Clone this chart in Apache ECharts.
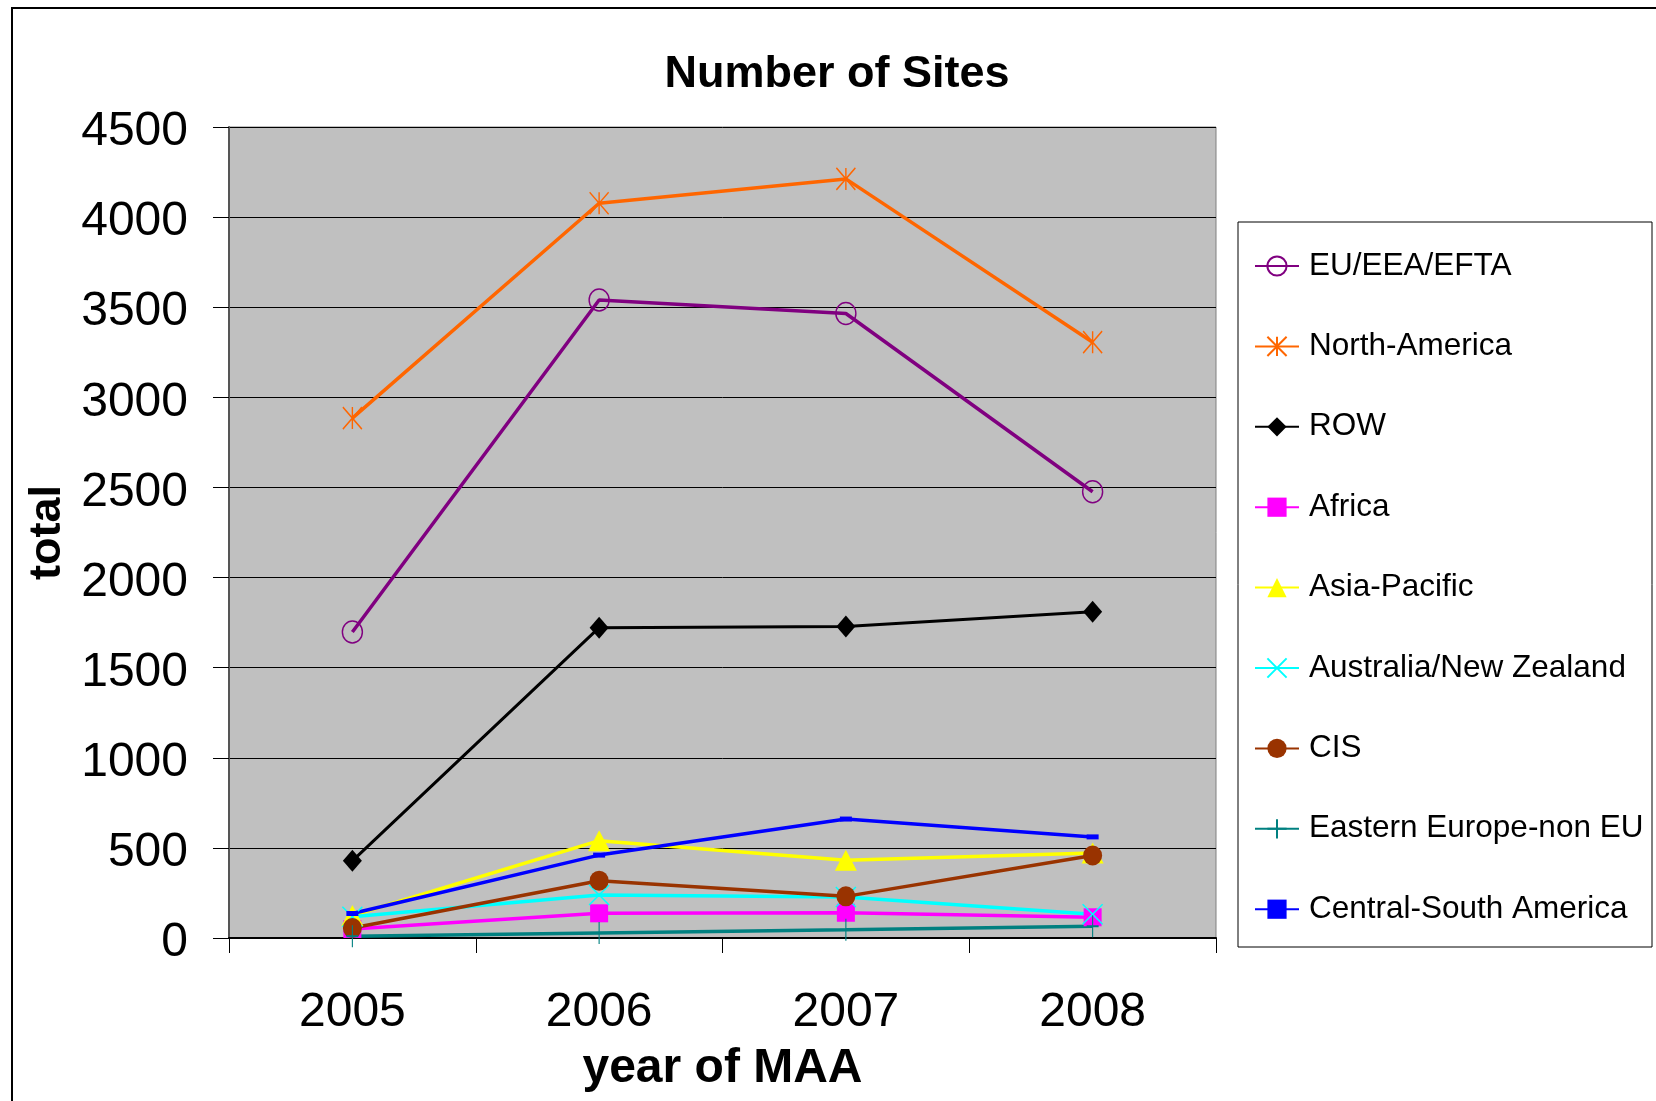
<!DOCTYPE html>
<html>
<head>
<meta charset="utf-8">
<style>html,body{margin:0;padding:0;background:#fff;}#c{width:1656px;height:1101px;}</style>
<script src="https://cdn.jsdelivr.net/npm/echarts@6/dist/echarts.min.js"></script>
</head>
<body>
<div id="c"></div>
<script>
const years = ['2005', '2006', '2007', '2008'];
const euEeaEfta = [1698, 3540, 3465, 2476];
const northAmerica = [2885, 4077, 4212, 3306];
const row = [428, 1722, 1728, 1810];
const africa = [50, 137, 140, 115];
const asiaPacific = [125, 540, 432, 472];
const australiaNZ = [118, 239, 228, 132];
const cis = [55, 318, 231, 458];
const easternEurope = [10, 28, 46, 65];
const centralSouthAmerica = [136, 460, 660, 561];
const yTicks = [0, 500, 1000, 1500, 2000, 2500, 3000, 3500, 4000, 4500];

const FONT = '"Liberation Sans", Arial, sans-serif';

function mk(name, data, color, symbol, size, opts) {
  opts = opts || {};
  return {
    name: name, type: 'line', data: data,
    symbol: symbol, symbolSize: size,
    showSymbol: true,
    lineStyle: { color: color, width: opts.lw || 3.5 },
    itemStyle: {
      color: opts.fill !== undefined ? opts.fill : color,
      borderColor: color,
      borderWidth: opts.bw !== undefined ? opts.bw : 0
    },
    emphasis: { disabled: true },
    animation: false
  };
}

const chart = echarts.init(document.getElementById('c'), null, { renderer: 'canvas' });
chart.setOption({
  animation: false,
  backgroundColor: '#fff',
  textStyle: { fontFamily: FONT },
  title: {
    text: 'Number of Sites',
    left: 832, top: 47, textAlign: 'center',
    textStyle: { fontFamily: FONT, fontSize: 45, fontWeight: 'bold', color: '#000' }
  },
  graphic: [
    { type: 'rect', shape: { x: 12, y: 8, width: 1700, height: 1200 }, style: { fill: 'none', stroke: '#000', lineWidth: 2 }, z: -1 },
    { type: 'rect', shape: { x: 1238, y: 222, width: 414, height: 725 }, style: { fill: '#fff', stroke: '#000', lineWidth: 1 }, z: -1 }
  ],
  legend: {
    orient: 'vertical',
    left: 1254, top: 250,
    itemWidth: 44, itemHeight: 24, itemGap: 48.4,
    padding: 0,
    textStyle: { fontFamily: FONT, fontSize: 31.5, color: '#000', padding: [0, 0, 0, 5] },
    data: ['EU/EEA/EFTA', 'North-America', 'ROW', 'Africa', 'Asia-Pacific', 'Australia/New Zealand', 'CIS', 'Eastern Europe-non EU', 'Central-South America']
  },
  grid: {
    left: 229, top: 127, width: 987, height: 811,
    show: true, backgroundColor: '#C0C0C0', borderColor: '#808080', borderWidth: 1
  },
  xAxis: {
    type: 'category', data: years, boundaryGap: true,
    name: 'year of MAA', nameLocation: 'middle', nameGap: 107,
    nameTextStyle: { fontFamily: FONT, fontSize: 48, fontWeight: 'bold', color: '#000' },
    axisLine: { show: true, lineStyle: { color: '#000', width: 2 } },
    axisTick: { show: true, length: 15, interval: 0, alignWithLabel: false, lineStyle: { color: '#000', width: 1 } },
    axisLabel: { fontFamily: FONT, fontSize: 48, color: '#000', margin: 51, interval: 0 },
    splitLine: { show: false }
  },
  yAxis: {
    type: 'value', min: 0, max: 4500, interval: 500,
    name: 'total', nameLocation: 'middle', nameGap: 157, nameRotate: 90,
    nameTextStyle: { fontFamily: FONT, fontSize: 45, fontWeight: 'bold', color: '#000' },
    axisLine: { show: true, lineStyle: { color: '#555', width: 2 } },
    axisTick: { show: true, length: 16, lineStyle: { color: '#000', width: 1 } },
    axisLabel: { fontFamily: FONT, fontSize: 48, color: '#000', margin: 41,
      verticalAlign: 'top', lineHeight: 10,
      formatter: function (v) { return yTicks.indexOf(v) >= 0 ? String(v) : ''; } },
    splitLine: { show: true, lineStyle: { color: '#000', width: 1 } }
  },
  series: [
    mk('EU/EEA/EFTA', euEeaEfta, '#800080', 'circle', [20, 22], { fill: 'rgba(0,0,0,0)', bw: 1.5, lw: 3.5 }),
    mk('North-America', northAmerica, '#FF6600', 'path://M0,0L12,20M12,0L0,20M6,0L6,20', [19, 22], { bw: 1.5 }),
    mk('ROW', row, '#000000', 'diamond', [19, 22], { lw: 3 }),
    mk('Africa', africa, '#FF00FF', 'rect', [18, 18]),
    mk('Asia-Pacific', asiaPacific, '#FFFF00', 'triangle', [22, 21]),
    mk('Australia/New Zealand', australiaNZ, '#00FFFF', 'path://M0,0L20,20M20,0L0,20', [20, 20], { bw: 1.5 }),
    mk('CIS', cis, '#993300', 'circle', [19, 20]),
    mk('Eastern Europe-non EU', easternEurope, '#008080', 'path://M10,0L10,22M4,11L16,11', [12, 22], { bw: 1.5 }),
    mk('Central-South America', centralSouthAmerica, '#0000FF', 'rect', [12, 5])
  ]
});
</script>
</body>
</html>
